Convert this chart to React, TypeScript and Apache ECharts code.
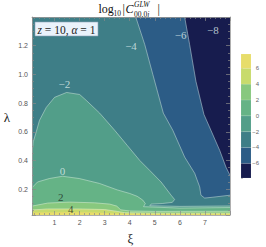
import React, { useEffect, useRef } from 'react';
import * as echarts from 'echarts';

// axis ranges and ticks
const xiMin = 0.1;
const xiMax = 8;
const lamMin = 0.02;
const lamMax = 1.4;
const xTickLabels = [1, 2, 3, 4, 5, 6, 7];
const yTickLabels = [0.2, 0.4, 0.6, 0.8, 1.0, 1.2];

// contour levels (log10 values) and band colours (band i lies below levels[i])
const levels = [-6, -4, -2, 0, 2, 4, 6];
const bandColors = ['#171c4e', '#2c5c86', '#3e7e87', '#529e89', '#65b386', '#88c87e', '#c8db6c', '#e7dd6b'];

// whole plot (lowest band)
const baseRegion = [[-0.2, -0.1], [8.3, -0.1], [8.3, 1.5], [-0.2, 1.5]];

// contour lines: [xi, lambda]
const contourM6 = [[6.17, 1.45], [6.19, 1.4], [6.39, 1.207], [6.64, 0.952], [6.96, 0.721], [7.24, 0.61], [7.59, 0.47], [7.84, 0.353], [8.0, 0.297], [8.1, 0.26]];
const closeM6 = [[8.3, 0.26], [8.3, -0.1], [-0.2, -0.1], [-0.2, 1.5], [6.16, 1.5]];
const contourM4 = [[4.22, 1.45], [4.24, 1.4], [4.6, 1.207], [4.92, 1.0], [5.34, 0.73], [5.72, 0.61], [6.19, 0.424], [6.59, 0.311], [6.79, 0.216], [6.84, 0.158], [6.99, 0.138], [7.32, 0.144], [8.0, 0.158], [8.3, 0.16]];
const closeM4 = [[8.3, -0.1], [-0.2, -0.1], [-0.2, 1.5], [4.2, 1.5]];
const contourM2 = [[0.05, 0.4], [0.1, 0.45], [0.15, 0.53], [0.27, 0.6], [0.4, 0.68], [0.67, 0.77], [1.0, 0.84], [1.48, 0.874], [2.0, 0.86], [2.27, 0.818], [2.8, 0.73], [3.4, 0.61], [3.9, 0.505], [4.4, 0.4], [4.8, 0.33], [5.25, 0.25], [5.65, 0.158], [5.79, 0.128], [5.7, 0.108], [5.3, 0.1], [4.85, 0.096], [4.8, 0.085], [6.0, 0.08], [8.0, 0.083], [8.3, 0.083]];
const closeM2 = [[8.3, -0.1], [-0.2, -0.1], [-0.2, 0.4]];
const contour0 = [[0.0, 0.2], [0.1, 0.21], [0.32, 0.25], [0.79, 0.274], [1.32, 0.29], [1.99, 0.274], [2.79, 0.24], [3.5, 0.195], [4.0, 0.17], [4.3, 0.15], [4.52, 0.124], [4.62, 0.1], [4.55, 0.078], [6.0, 0.068], [8.0, 0.072], [8.3, 0.072]];
const close0 = [[8.3, -0.1], [-0.2, -0.1], [-0.2, 0.2]];
const contour2 = [[0.0, 0.08], [0.1, 0.082], [0.72, 0.103], [1.6, 0.11], [2.59, 0.105], [3.2, 0.096], [3.48, 0.082], [3.64, 0.056], [4.0, 0.048], [5.0, 0.045], [8.0, 0.046], [8.3, 0.046]];
const close2 = [[8.3, -0.1], [-0.2, -0.1], [-0.2, 0.08]];
const contour4 = [[0.0, 0.054], [0.1, 0.055], [0.7, 0.062], [2.0, 0.062], [3.0, 0.058], [3.5, 0.045], [3.8, 0.036], [5.0, 0.033], [8.0, 0.033], [8.3, 0.033]];
const close4 = [[8.3, -0.1], [-0.2, -0.1], [-0.2, 0.054]];
const contour6 = [[0.0, 0.036], [0.1, 0.036], [1.5, 0.04], [2.5, 0.038], [3.3, 0.03], [4.0, 0.027], [8.0, 0.026], [8.3, 0.026]];
const close6 = [[8.3, -0.1], [-0.2, -0.1], [-0.2, 0.036]];

const contourLines = [contourM6, contourM4, contourM2, contour0, contour2, contour4, contour6];
const contourCloses = [closeM6, closeM4, closeM2, close0, close2, close4, close6];
const drawLine = [true, true, true, true, true, true, false];

// contour labels: [xi, lambda, text]
const labelXi = [1.39, 4.05, 6.03, 7.32, 1.32, 1.25, 1.65];
const labelLam = [0.936, 1.195, 1.276, 1.311, 0.327, 0.144, 0.061];
const labelText = ['\u22122', '\u22124', '\u22126', '\u22128', '0', '2', '4'];
const labelDark = [false, false, false, false, false, true, true];

// colour bar
const cbarEdges = [-7.85, -6, -4, -2, 0, 2, 4, 6, 7.8];

export default function App() {
  const ref = useRef<HTMLDivElement>(null);
  useEffect(() => {
    const chart = echarts.init(ref.current!, null, { renderer: 'svg' });
    const serif = '"Liberation Serif", "DejaVu Serif", serif';
    const frameColor = '#9a9a9a';
    const tickStyle = { color: '#8a8a8a', width: 0.7 };

    const regionPolys = [baseRegion].concat(contourLines.map((c, i) => c.concat(contourCloses[i])));

    const regionSeries: any = {
      type: 'custom',
      xAxisIndex: 0,
      yAxisIndex: 0,
      clip: true,
      z: 1,
      silent: true,
      data: regionPolys.map((p, i) => [4, 0.7, i]),
      renderItem: (params: any, api: any) => {
        const i = params.dataIndex;
        const pts = regionPolys[i].map((p) => api.coord(p));
        return { type: 'polygon', shape: { points: pts }, style: { fill: bandColors[i], stroke: bandColors[i], lineWidth: 0.3 } };
      },
    };
    const lineSeries: any = {
      type: 'custom',
      xAxisIndex: 0,
      yAxisIndex: 0,
      clip: true,
      z: 2,
      silent: true,
      data: levels.map((lv, i) => [4, 0.7, i]),
      renderItem: (params: any, api: any) => {
        const i = params.dataIndex;
        if (!drawLine[i]) return null;
        const pts = contourLines[i].map((p) => api.coord(p));
        return { type: 'polyline', shape: { points: pts }, style: { stroke: 'rgba(235,245,240,0.6)', lineWidth: 0.7, fill: 'none' } };
      },
    };
    const labelSeries: any = {
      type: 'scatter',
      xAxisIndex: 0,
      yAxisIndex: 0,
      z: 5,
      silent: true,
      symbolSize: 0,
      data: labelXi.map((x, i) => ({
        value: [x, labelLam[i]],
        label: {
          show: true,
          position: 'inside',
          formatter: labelText[i],
          color: labelDark[i] ? '#1e2a20' : '#dfeceb',
          fontFamily: serif,
          fontSize: 11,
        },
      })),
    };
    const cbarSeries: any = {
      type: 'custom',
      xAxisIndex: 2,
      yAxisIndex: 2,
      silent: true,
      data: cbarEdges.slice(0, -1).map((lo, i) => [lo, cbarEdges[i + 1], i]),
      renderItem: (params: any, api: any) => {
        const lo = api.value(0);
        const hi = api.value(1);
        const p1 = api.coord([0, hi]);
        const p2 = api.coord([1, lo]);
        return {
          type: 'rect',
          shape: { x: p1[0], y: p1[1], width: p2[0] - p1[0], height: p2[1] - p1[1] },
          style: { fill: bandColors[params.dataIndex], stroke: 'rgba(255,255,255,0.25)', lineWidth: 0.4 },
        };
      },
    };

    const isLabel = (v: number, arr: number[]) => arr.some((t) => Math.abs(t - v) < 1e-6);

    chart.setOption({
      animation: false,
      grid: [
        { left: 32, top: 17, width: 198, height: 198, show: false },
        { left: 241, top: 54, width: 10, height: 124, show: false },
      ],
      xAxis: [
        {
          type: 'value', gridIndex: 0, min: xiMin, max: xiMax, splitNumber: 8, position: 'bottom', z: 10,
          axisLine: { show: true, onZero: false, lineStyle: { color: frameColor, width: 0.8 } },
          axisTick: { show: true, inside: true, length: 4, lineStyle: tickStyle },
          minorTick: { show: true, splitNumber: 5, length: 2, lineStyle: tickStyle },
          axisLabel: { fontSize: 7, color: '#555', margin: 4, formatter: (v: number) => (isLabel(v, xTickLabels) ? String(Math.round(v)) : ''), showMinLabel: false, showMaxLabel: false },
          splitLine: { show: false },
        },
        {
          type: 'value', gridIndex: 0, min: xiMin, max: xiMax, splitNumber: 8, position: 'top', z: 10,
          axisLine: { show: true, onZero: false, lineStyle: { color: frameColor, width: 0.8 } },
          axisTick: { show: true, inside: true, length: 4, lineStyle: tickStyle },
          minorTick: { show: true, splitNumber: 5, length: 2, lineStyle: tickStyle },
          axisLabel: { show: false },
          splitLine: { show: false },
        },
        { type: 'value', gridIndex: 1, min: 0, max: 1, show: false },
      ],
      yAxis: [
        {
          type: 'value', gridIndex: 0, min: lamMin, max: lamMax, splitNumber: 7, position: 'left', z: 10,
          axisLine: { show: true, onZero: false, lineStyle: { color: frameColor, width: 0.8 } },
          axisTick: { show: true, inside: true, length: 4, lineStyle: tickStyle },
          minorTick: { show: true, splitNumber: 4, length: 2, lineStyle: tickStyle },
          axisLabel: { fontSize: 7, color: '#555', margin: 4, formatter: (v: number) => (isLabel(v, yTickLabels) ? v.toFixed(1) : ''), showMinLabel: false, showMaxLabel: false },
          splitLine: { show: false },
        },
        {
          type: 'value', gridIndex: 0, min: lamMin, max: lamMax, splitNumber: 7, position: 'right', z: 10,
          axisLine: { show: true, onZero: false, lineStyle: { color: frameColor, width: 0.8 } },
          axisTick: { show: true, inside: true, length: 4, lineStyle: tickStyle },
          minorTick: { show: true, splitNumber: 4, length: 2, lineStyle: tickStyle },
          axisLabel: { show: false },
          splitLine: { show: false },
        },
        {
          type: 'value', gridIndex: 1, min: cbarEdges[0], max: cbarEdges[cbarEdges.length - 1], splitNumber: 8, position: 'right',
          axisLine: { show: false },
          axisTick: { show: true, inside: false, length: 2, lineStyle: { color: '#999', width: 0.6 } },
          axisLabel: {
            fontSize: 6, color: '#666', margin: 8, align: 'right',
            formatter: (v: number) => (Math.abs(v - Math.round(v)) < 1e-6 && Math.round(v) % 2 === 0 && Math.abs(v) <= 6 ? (v < 0 ? '\u2212' + Math.abs(v) : String(v)) : ''),
          },
          splitLine: { show: false },
        },
      ],
      graphic: [
        // title
        { type: 'text', x: 98.5, y: 9, style: { text: 'log', font: '12px ' + serif, fill: '#111', textVerticalAlign: 'middle' } },
        { type: 'text', x: 113.5, y: 13.5, style: { text: '10', font: '7.5px ' + serif, fill: '#111', textVerticalAlign: 'middle' } },
        { type: 'text', x: 122.5, y: 9, style: { text: '|', font: '12px ' + serif, fill: '#111', textVerticalAlign: 'middle' } },
        { type: 'text', x: 125.5, y: 9, style: { text: 'C', font: 'italic 12px ' + serif, fill: '#111', textVerticalAlign: 'middle' } },
        { type: 'text', x: 134, y: 4.5, style: { text: 'GLW', font: 'italic 7.5px ' + serif, fill: '#111', textVerticalAlign: 'middle' } },
        { type: 'text', x: 134, y: 14, style: { text: '{n|00,0}{i|j}', fill: '#111', textVerticalAlign: 'middle', rich: { n: { fontFamily: serif, fontSize: 7.5, fill: '#111' }, i: { fontFamily: serif, fontSize: 7.5, fontStyle: 'italic', fill: '#111' } } } },
        { type: 'text', x: 157.5, y: 9, style: { text: '|', font: '12px ' + serif, fill: '#111', textVerticalAlign: 'middle' } },
        // annotation box
        { type: 'rect', z: 20, shape: { x: 35, y: 22, width: 63, height: 14 }, style: { fill: '#eaf2fb', stroke: '#8fa3b8', lineWidth: 0.6 } },
        {
          type: 'text', z: 21, x: 66.5, y: 29.5,
          style: {
            text: '{i|z}{n| = 10, }{i|\u03b1}{n| = 1}', textAlign: 'center', textVerticalAlign: 'middle',
            rich: { n: { fontFamily: serif, fontSize: 11.5, fill: '#222' }, i: { fontFamily: serif, fontSize: 11.5, fontStyle: 'italic', fill: '#222' } },
          },
        },
        // axis names
        { type: 'text', x: 7, y: 117, style: { text: '\u03bb', font: '13px ' + serif, fill: '#222', textAlign: 'center', textVerticalAlign: 'middle' } },
        { type: 'text', x: 130.5, y: 238, style: { text: '\u03be', font: '13px ' + serif, fill: '#222', textAlign: 'center', textVerticalAlign: 'middle' } },
      ],
      series: [regionSeries, lineSeries, labelSeries, cbarSeries],
    });
    return () => chart.dispose();
  }, []);
  return <div ref={ref} style={{ position: 'fixed', left: 0, top: 0, width: 266, height: 247, background: '#fff' }} />;
}
